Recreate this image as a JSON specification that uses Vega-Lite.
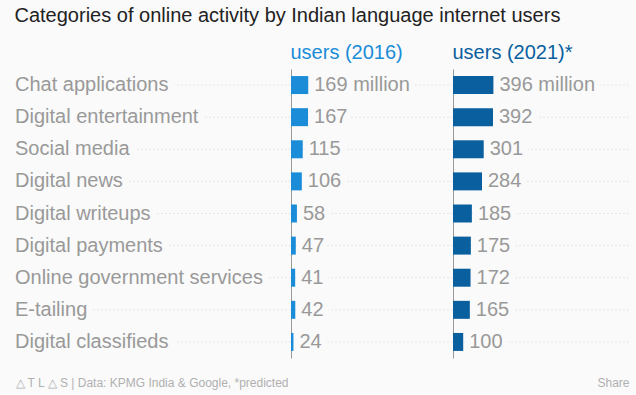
{
  "$schema": "https://vega.github.io/schema/vega-lite/v6.json",
  "background": "#fafafa",
  "padding": {"left": 14, "top": 6, "right": 8, "bottom": 6},
  "autosize": {"type": "pad"},
  "bounds": "flush",
  "config": {
    "view": {"stroke": null},
    "font": "Liberation Sans",
    "title": {"font": "Liberation Sans", "fontWeight": "normal"}
  },
  "title": {
    "text": "Categories of online activity by Indian language internet users",
    "anchor": "start",
    "fontSize": 20,
    "color": "#222222",
    "offset": 17
  },
  "data": {
    "values": [
      {"category": "Chat applications", "v16": 169, "v21": 396, "t16": "169 million", "t21": "396 million"},
      {"category": "Digital entertainment", "v16": 167, "v21": 392, "t16": "167", "t21": "392"},
      {"category": "Social media", "v16": 115, "v21": 301, "t16": "115", "t21": "301"},
      {"category": "Digital news", "v16": 106, "v21": 284, "t16": "106", "t21": "284"},
      {"category": "Digital writeups", "v16": 58, "v21": 185, "t16": "58", "t21": "185"},
      {"category": "Digital payments", "v16": 47, "v21": 175, "t16": "47", "t21": "175"},
      {"category": "Online government services", "v16": 41, "v21": 172, "t16": "41", "t21": "172"},
      {"category": "E-tailing", "v16": 42, "v21": 165, "t16": "42", "t21": "165"},
      {"category": "Digital classifieds", "v16": 24, "v21": 100, "t16": "24", "t21": "100"}
    ]
  },
  "spacing": 0,
  "hconcat": [
    {
      "width": 276,
      "height": 289,
      "encoding": {
        "y": {"field": "category", "type": "nominal", "sort": null, "axis": null, "scale": {"paddingInner": 0.44, "paddingOuter": 0.22}},
        "x": {"datum": 0, "type": "quantitative", "scale": {"domain": [0, 1]},
          "axis": {"orient": "bottom", "domain": false, "ticks": false, "labels": false, "grid": false,
            "title": "\u25b3 T L \u25b3 S  |  Data:  KPMG India & Google, *predicted",
            "titleAnchor": "start", "titleAlign": "left", "titleColor": "#b0b0b0", "titleFontSize": 12, "titleFontWeight": "normal", "titlePadding": 19}}
      },
      "layer": [
        {"mark": {"type": "rule", "color": "#e6e6e6", "strokeDash": [2, 2], "strokeWidth": 1}, "encoding": {"x": null}},
        {"mark": {"type": "text", "align": "left", "baseline": "middle", "fontSize": 20, "fill": "#fafafa", "stroke": "#fafafa", "strokeWidth": 12}, "encoding": {"text": {"field": "category"}}},
        {"mark": {"type": "text", "align": "left", "baseline": "middle", "fontSize": 20, "color": "#999999"}, "encoding": {"text": {"field": "category"}}}
      ]
    },
    {
      "width": 162,
      "height": 289,
      "title": {"text": "users (2016)", "anchor": "start", "fontSize": 20, "color": "#1a8cd8", "offset": 6},
      "encoding": {
        "y": {"field": "category", "type": "nominal", "sort": null, "scale": {"paddingInner": 0.44, "paddingOuter": 0.22},
          "axis": {"labels": false, "ticks": false, "domain": true, "domainColor": "#999999", "grid": false, "title": null}},
        "x": {"field": "v16", "type": "quantitative", "scale": {"domain": [0, 1588], "nice": false}, "axis": null}
      },
      "layer": [
        {"mark": {"type": "rule", "color": "#e6e6e6", "strokeDash": [2, 2], "strokeWidth": 1}, "encoding": {"x": null}},
        {"mark": {"type": "text", "align": "left", "baseline": "middle", "dx": 6, "fontSize": 20, "fill": "#fafafa", "stroke": "#fafafa", "strokeWidth": 12}, "encoding": {"text": {"field": "t16"}}},
        {"mark": {"type": "bar", "color": "#1a8cd8"}},
        {"mark": {"type": "text", "align": "left", "baseline": "middle", "dx": 6, "fontSize": 20, "color": "#999999"}, "encoding": {"text": {"field": "t16"}}}
      ]
    },
    {
      "width": 176,
      "height": 289,
      "title": {"text": "users (2021)*", "anchor": "start", "fontSize": 20, "color": "#0a5f9e", "offset": 6},
      "encoding": {
        "y": {"field": "category", "type": "nominal", "sort": null, "scale": {"paddingInner": 0.44, "paddingOuter": 0.22},
          "axis": {"labels": false, "ticks": false, "domain": true, "domainColor": "#999999", "grid": false, "title": null}},
        "x": {"field": "v21", "type": "quantitative", "scale": {"domain": [0, 1725], "nice": false},
          "axis": {"orient": "bottom", "domain": false, "ticks": false, "labels": false, "grid": false,
            "title": "Share", "titleAnchor": "end", "titleAlign": "right", "titleColor": "#b0b0b0", "titleFontSize": 12, "titleFontWeight": "normal", "titlePadding": 19}}
      },
      "layer": [
        {"mark": {"type": "rule", "color": "#e6e6e6", "strokeDash": [2, 2], "strokeWidth": 1}, "encoding": {"x": null}},
        {"mark": {"type": "text", "align": "left", "baseline": "middle", "dx": 6, "fontSize": 20, "fill": "#fafafa", "stroke": "#fafafa", "strokeWidth": 12}, "encoding": {"text": {"field": "t21"}}},
        {"mark": {"type": "bar", "color": "#0a5f9e"}},
        {"mark": {"type": "text", "align": "left", "baseline": "middle", "dx": 6, "fontSize": 20, "color": "#999999"}, "encoding": {"text": {"field": "t21"}}}
      ]
    }
  ]
}
